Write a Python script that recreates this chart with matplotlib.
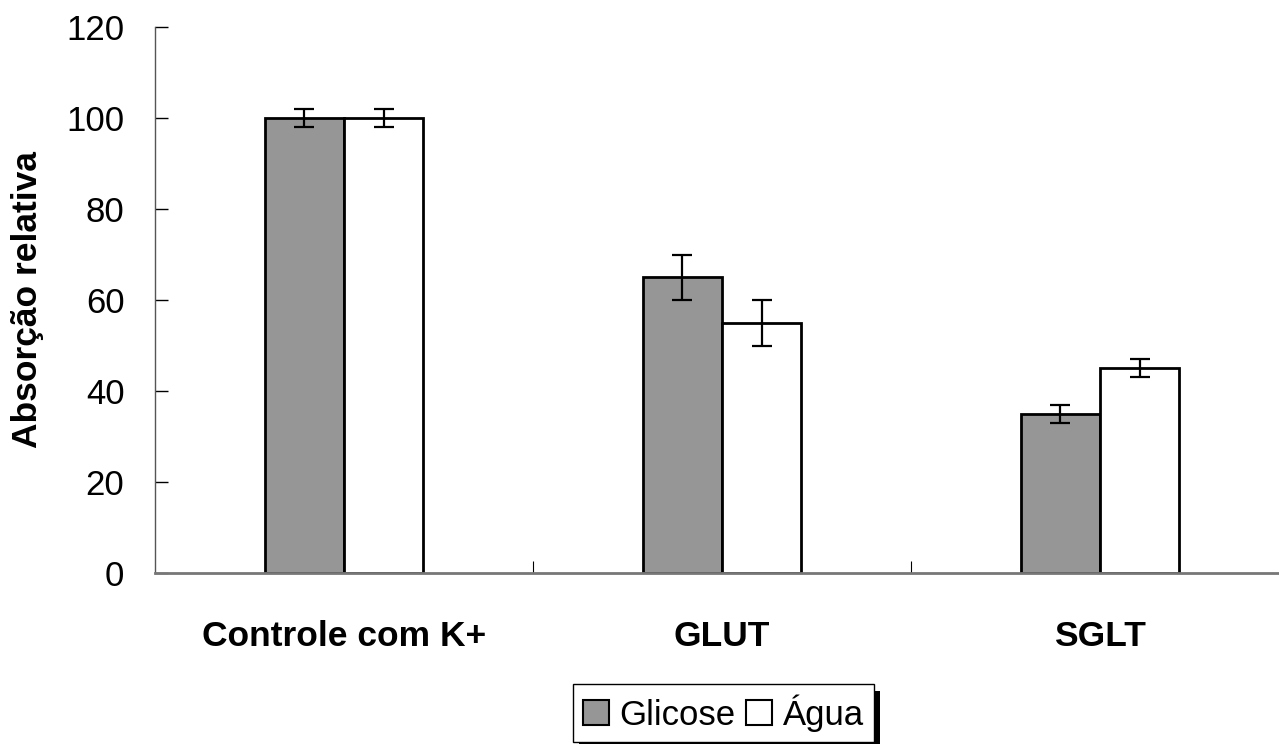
import matplotlib
matplotlib.use("Agg")
import matplotlib.pyplot as plt
from matplotlib.patches import Patch, Rectangle
import numpy as np

plt.rcParams['font.family'] = ['Liberation Sans', 'DejaVu Sans']

categories = ["Controle com K+", "GLUT", "SGLT"]
glicose = [100, 65, 35]
glicose_err = [2, 5, 2]
agua = [100, 55, 45]
agua_err = [2, 5, 2]
yticks = [0, 20, 40, 60, 80, 100, 120]

W, H = 1279, 744
fig = plt.figure(figsize=(W / 100, H / 100), dpi=100)
ax = fig.add_axes([155 / W, 1 - 573 / H, (1289 - 155) / W, (573 - 27) / H])

x = np.arange(len(categories))
bw = 0.21
gray = "#969696"
ax.bar(x - bw / 2, glicose, bw, color=gray, edgecolor="black", linewidth=2, zorder=2)
ax.bar(x + bw / 2, agua, bw, color="white", edgecolor="black", linewidth=2, zorder=2)
ax.errorbar(x - bw / 2, glicose, yerr=glicose_err, fmt="none", ecolor="black",
            elinewidth=1.6, capsize=7, capthick=1.6, zorder=3)
ax.errorbar(x + bw / 2, agua, yerr=agua_err, fmt="none", ecolor="black",
            elinewidth=1.6, capsize=7, capthick=1.6, zorder=3)

ax.set_xlim(-0.5, len(categories) - 0.5)
ax.set_ylim(0, 120)
ax.set_yticks(yticks)
ax.tick_params(axis="y", direction="in", length=9, width=1, labelsize=25, pad=22)
ax.set_xticks(x)
ax.set_xticklabels(categories, fontsize=25.5, fontweight="bold")
ax.tick_params(axis="x", length=0, pad=34)
ax.set_xticks(np.arange(len(categories)) + 0.5, minor=True)
ax.tick_params(axis="x", which="minor", direction="in", length=9, width=0.8, color="black")

for s in ("top", "right"):
    ax.spines[s].set_visible(False)
ax.spines["left"].set_color("#555555")
ax.spines["left"].set_linewidth(1)
ax.spines["bottom"].set_color("#777777")
ax.spines["bottom"].set_linewidth(2)

ax.set_ylabel("Absorção relativa", fontsize=25.5, fontweight="bold", labelpad=16)

handles = [Patch(facecolor=gray, edgecolor="black", linewidth=1.5, label="Glicose"),
           Patch(facecolor="white", edgecolor="black", linewidth=1.5, label="Água")]
leg = fig.legend(handles=handles, loc="center", bbox_to_anchor=(723.5 / W, 1 - 713 / H),
                 ncol=2, fontsize=25, frameon=True, fancybox=False, handlelength=0.75,
                 handleheight=0.75, handletextpad=0.3, columnspacing=0.3,
                 borderpad=0.3, borderaxespad=0, framealpha=1, facecolor="white")
leg.get_frame().set_edgecolor("black")
leg.get_frame().set_linewidth(1)
leg.set_zorder(5)

fig.canvas.draw()
bb = leg.get_window_extent()
shadow = Rectangle((bb.x0 + 6, bb.y0 - 7), bb.width, bb.height, transform=None,
                   facecolor="black", edgecolor="none", zorder=4)
fig.add_artist(shadow)

fig.savefig("out.png", dpi=100)
